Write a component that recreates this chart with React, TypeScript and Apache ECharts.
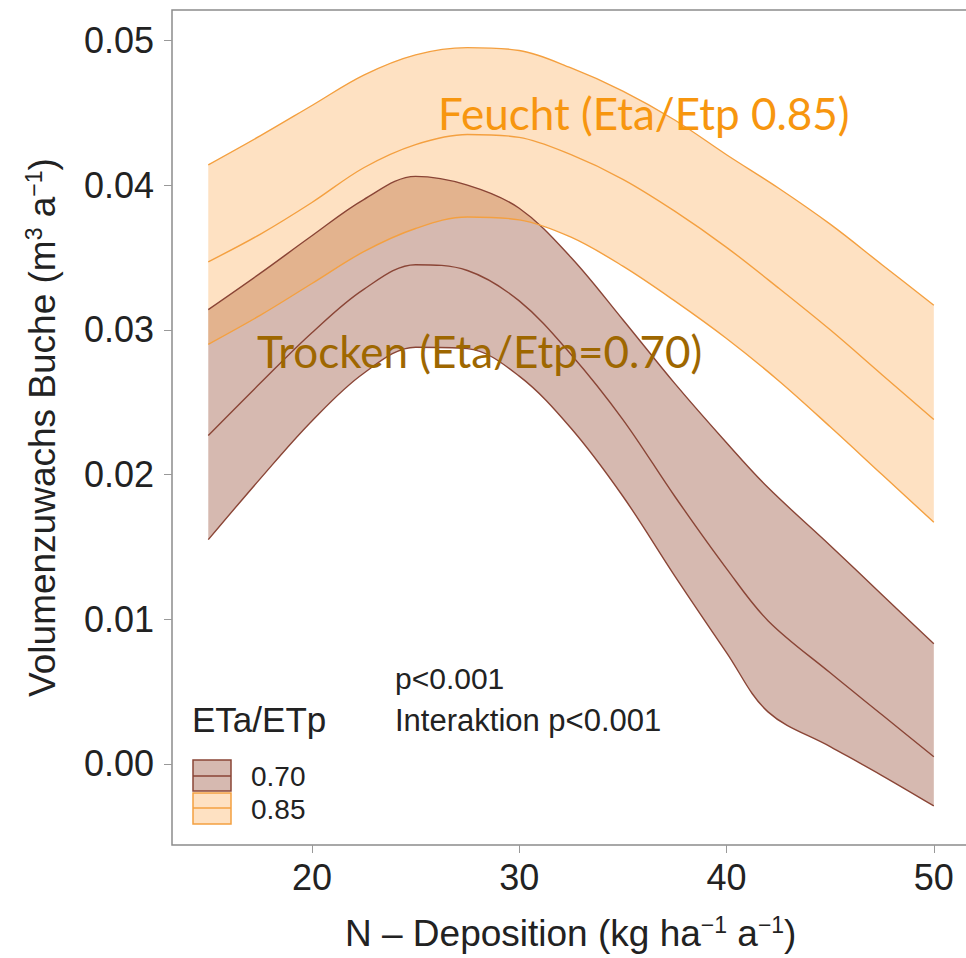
import React, { useEffect, useRef } from "react";
import * as echarts from "echarts";

// N-Deposition (kg ha-1 a-1)
const moistX = [15, 17.5, 20, 22.5, 25, 27.5, 30, 32.5, 35, 37.5, 40, 42.5, 45, 47.5, 50];
const moistUpper = [0.0414, 0.0434, 0.0455, 0.0476, 0.0490, 0.0495, 0.0493, 0.0481, 0.0465, 0.0445, 0.0421, 0.0398, 0.0373, 0.0345, 0.0317];
const moistMean = [0.0347, 0.0366, 0.0388, 0.0412, 0.0428, 0.0435, 0.0433, 0.0421, 0.0404, 0.0382, 0.0357, 0.0329, 0.0300, 0.0269, 0.0238];
const moistLower = [0.0290, 0.0310, 0.0332, 0.0354, 0.0370, 0.0378, 0.0376, 0.0364, 0.0344, 0.0320, 0.0294, 0.0265, 0.0233, 0.0200, 0.0167];

const dryX = [15, 17.5, 20, 22.5, 25, 27.5, 30, 32.5, 35, 37.5, 40, 42, 45, 47.5, 50];
const dryUpper = [0.0314, 0.0339, 0.0365, 0.0390, 0.0406, 0.0400, 0.0384, 0.0350, 0.0307, 0.0263, 0.0222, 0.0191, 0.0151, 0.0117, 0.0083];
const dryMean = [0.0227, 0.0263, 0.0298, 0.0328, 0.0345, 0.0341, 0.0320, 0.0283, 0.0238, 0.0185, 0.0135, 0.0099, 0.0063, 0.0034, 0.0005];
const dryLower = [0.0155, 0.0197, 0.0237, 0.0270, 0.0288, 0.0287, 0.0268, 0.0232, 0.0185, 0.0130, 0.0077, 0.0036, 0.0012, -0.0008, -0.0029];

const xTicks = [20, 30, 40, 50];
const yTicks = [0, 0.01, 0.02, 0.03, 0.04, 0.05];
const legendTitle = "ETa/ETp";
const legendLabels = ["0.70", "0.85"];

const DRY_LINE = "#8a4536";
const DRY_FILL = "rgba(140,62,36,0.36)";
const MOIST_LINE = "#f4a040";
const MOIST_FILL = "rgba(251,168,76,0.34)";
const SMOOTH = 0.35;

// rows are [y, x] so that stacking acts on the y column
function rows(xs: number[], ys: number[]) {
  return xs.map((x, i) => [ys[i], x]);
}
function diffRows(xs: number[], up: number[], lo: number[]) {
  return xs.map((x, i) => [+(up[i] - lo[i]).toFixed(5), x]);
}

export default function App() {
  const ref = useRef<HTMLDivElement>(null);
  useEffect(() => {
    document.body.style.margin = "0";
    if (!ref.current) return;
    const chart = echarts.init(ref.current, undefined, { renderer: "svg" });
    const baseLine = (name: string, data: number[][], color: string, stack?: string, fill?: string) => ({
      name,
      type: "line",
      data,
      encode: { x: 1, y: 0 },
      stack,
      stackStrategy: "all",
      smooth: SMOOTH,
      symbol: "none",
      silent: true,
      lineStyle: { color, width: 1.4 },
      areaStyle: fill ? { color: fill, opacity: 1 } : undefined,
    });
    const textStyleAxis = { fontFamily: "Liberation Sans, Arial, sans-serif", color: "#222" };
    chart.setOption({
      animation: false,
      backgroundColor: "#ffffff",
      grid: {
        left: 172,
        top: 10,
        right: 0,
        bottom: 113,
        show: true,
        borderColor: "#8c8c8c",
        borderWidth: 1.5,
        backgroundColor: "transparent",
      },
      xAxis: {
        type: "value",
        min: 13.25,
        max: 52.71,
        axisLine: { show: false, onZero: false },
        splitLine: { show: false },
        axisTick: { show: true, length: 8, lineStyle: { color: "#999" }, customValues: xTicks },
        axisLabel: { customValues: xTicks, fontSize: 36, margin: 14, ...textStyleAxis },
        name: "{a|N – Deposition (kg ha}{s|−1}{a| a}{s|−1}{a|)}",
        nameLocation: "start",
        nameGap: 0,
        nameTextStyle: {
          align: "left",
          verticalAlign: "top",
          padding: [66, 0, 0, 173],
          rich: {
            a: { fontSize: 37, lineHeight: 44, verticalAlign: "middle", ...textStyleAxis },
            s: { fontSize: 23, lineHeight: 44, verticalAlign: "top", ...textStyleAxis, padding: [2, 0, 0, 0] },
          },
        },
      },
      yAxis: {
        type: "value",
        min: -0.0056,
        max: 0.0521,
        axisLine: { show: false, onZero: false },
        splitLine: { show: false },
        axisTick: { show: true, length: 8, lineStyle: { color: "#999" }, customValues: yTicks },
        axisLabel: {
          customValues: yTicks,
          fontSize: 36,
          margin: 18,
          formatter: (v: number) => v.toFixed(2),
          ...textStyleAxis,
        },
        name: "{a|Volumenzuwachs Buche (m}{s|3}{a| a}{s|−1}{a|)}",
        nameLocation: "middle",
        nameGap: 108,
        nameTextStyle: {
          rich: {
            a: { fontSize: 37, lineHeight: 44, verticalAlign: "middle", ...textStyleAxis },
            s: { fontSize: 23, lineHeight: 44, verticalAlign: "top", ...textStyleAxis, padding: [2, 0, 0, 0] },
          },
        },
      },
      series: [
        baseLine("dryLower", rows(dryX, dryLower), DRY_LINE, "dry"),
        baseLine("dryBand", diffRows(dryX, dryUpper, dryLower), DRY_LINE, "dry", DRY_FILL),
        baseLine("dryMean", rows(dryX, dryMean), DRY_LINE),
        baseLine("moistLower", rows(moistX, moistLower), MOIST_LINE, "moist"),
        baseLine("moistBand", diffRows(moistX, moistUpper, moistLower), MOIST_LINE, "moist", MOIST_FILL),
        baseLine("moistMean", rows(moistX, moistMean), MOIST_LINE),
      ],
      graphic: [
        { type: "text", x: 438, y: 113, z: 100, style: { text: "Feucht (Eta/Etp 0.85)", fill: "#f7960f", font: "44px Lato", verticalAlign: "middle" } },
        { type: "text", x: 257, y: 351, z: 100, style: { text: "Trocken (Eta/Etp=0.70)", fill: "#9e6700", font: "44px Lato", verticalAlign: "middle" } },
        { type: "text", x: 395, y: 678, z: 100, style: { text: "p<0.001", fill: "#222", font: "30px 'Liberation Sans', Arial", verticalAlign: "middle" } },
        { type: "text", x: 395, y: 720, z: 100, style: { text: "Interaktion p<0.001", fill: "#222", font: "31px 'Liberation Sans', Arial", verticalAlign: "middle" } },
        { type: "text", x: 192, y: 719, z: 100, style: { text: legendTitle, fill: "#222", font: "35px 'Liberation Sans', Arial", verticalAlign: "middle" } },
        { type: "rect", z: 100, shape: { x: 193, y: 760, width: 38, height: 31 }, style: { fill: DRY_FILL, stroke: DRY_LINE, lineWidth: 1.5 } },
        { type: "line", z: 101, shape: { x1: 193, y1: 776, x2: 231, y2: 776 }, style: { stroke: DRY_LINE, lineWidth: 1.5 } },
        { type: "rect", z: 100, shape: { x: 193, y: 793, width: 38, height: 31 }, style: { fill: MOIST_FILL, stroke: MOIST_LINE, lineWidth: 1.5 } },
        { type: "line", z: 101, shape: { x1: 193, y1: 808, x2: 231, y2: 808 }, style: { stroke: MOIST_LINE, lineWidth: 1.5 } },
        { type: "text", x: 251, y: 776, z: 100, style: { text: legendLabels[0], fill: "#222", font: "28px 'Liberation Sans', Arial", verticalAlign: "middle" } },
        { type: "text", x: 251, y: 809, z: 100, style: { text: legendLabels[1], fill: "#222", font: "28px 'Liberation Sans', Arial", verticalAlign: "middle" } },
      ],
    });
    return () => chart.dispose();
  }, []);
  return (
    <div style={{ width: 966, height: 958, overflow: "hidden" }}>
      <div ref={ref} style={{ width: 990, height: 958 }} />
    </div>
  );
}
